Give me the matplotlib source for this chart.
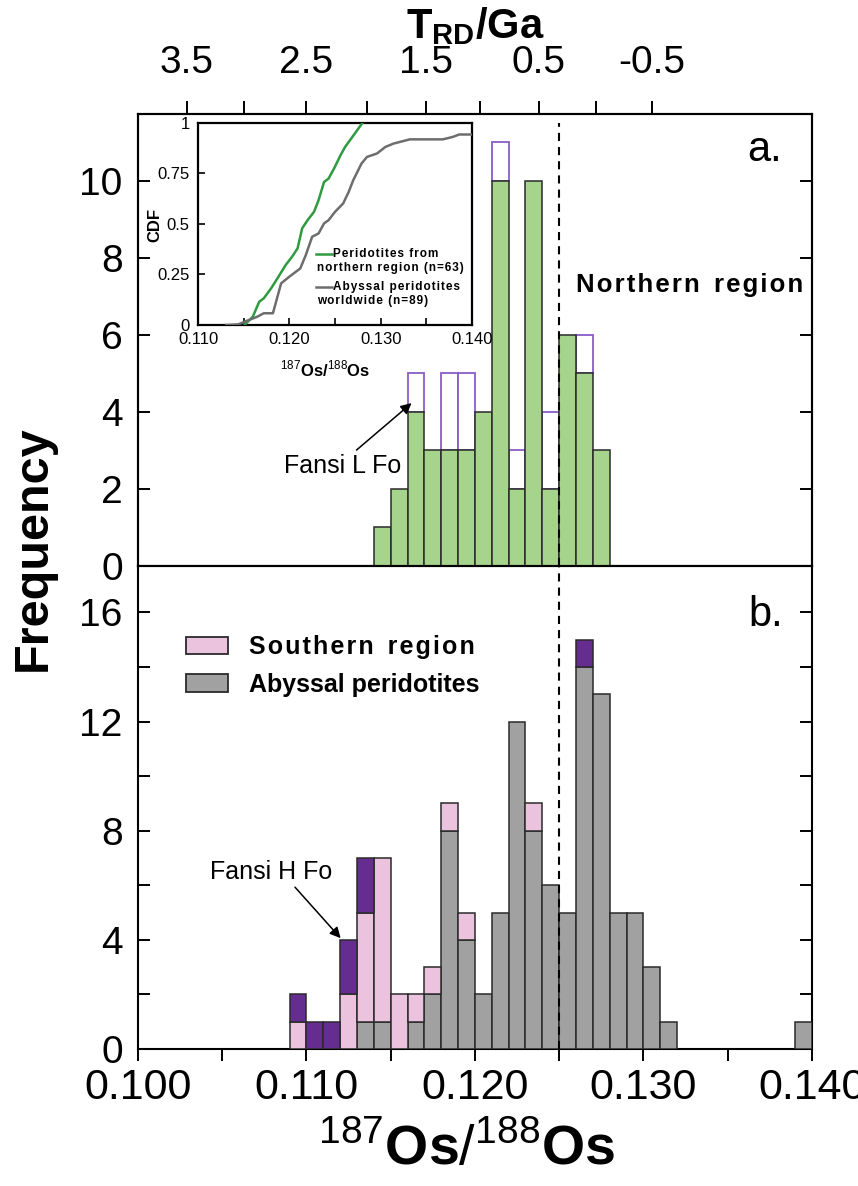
import numpy as np
import matplotlib.pyplot as plt
from matplotlib.patches import Patch
from matplotlib.lines import Line2D

# ---- data ----
BW = 0.001  # bin width of 187Os/188Os

# a. northern region
north_bins = [0.114, 0.115, 0.116, 0.117, 0.118, 0.119, 0.120,
              0.121, 0.122, 0.123, 0.124, 0.125, 0.126, 0.127]
north_counts = [1, 2, 4, 3, 3, 3, 4, 10, 2, 10, 2, 6, 5, 3]
fansi_l_counts = [0, 0, 1, 0, 2, 2, 0, 1, 1, 0, 2, 0, 1, 0]

# b. southern region + abyssal peridotites
south_bins = [0.109, 0.110, 0.111, 0.112, 0.113, 0.114, 0.115, 0.116,
              0.117, 0.118, 0.119, 0.120, 0.121, 0.122, 0.123, 0.124,
              0.125, 0.126, 0.127, 0.128, 0.129, 0.130, 0.131, 0.139]
abyssal_counts = [0, 0, 0, 0, 1, 1, 0, 1, 2, 8, 4, 2, 5, 12, 8, 6,
                  5, 14, 13, 5, 5, 3, 1, 1]
south_counts = [1, 0, 0, 2, 4, 6, 2, 1, 1, 1, 1, 0, 0, 0, 1, 0,
                0, 0, 0, 0, 0, 0, 0, 0]
fansi_h_counts = [1, 1, 1, 2, 2, 0, 0, 0, 0, 0, 0, 0, 0, 0, 0, 0,
                  0, 1, 0, 0, 0, 0, 0, 0]

# inset CDF curves
north_cdf_x = [0.1151, 0.1160, 0.1167, 0.1172, 0.1180, 0.1187, 0.1196, 0.1203,
               0.1209, 0.1214, 0.1220, 0.1227, 0.1232, 0.1238, 0.1243, 0.1249,
               0.1256, 0.1261, 0.1269, 0.1280]
north_cdf_y = [0.0, 0.041, 0.115, 0.132, 0.181, 0.231, 0.297, 0.338,
               0.379, 0.478, 0.519, 0.560, 0.618, 0.708, 0.725, 0.775,
               0.840, 0.881, 0.931, 1.0]
aby_cdf_x = [0.1131, 0.1144, 0.1156, 0.1165, 0.1172, 0.1182, 0.1191, 0.1200,
             0.1212, 0.1218, 0.1225, 0.1232, 0.1238, 0.1243, 0.1250, 0.1259,
             0.1265, 0.1270, 0.1279, 0.1285, 0.1296, 0.1305, 0.1314, 0.1332,
             0.1368, 0.1379, 0.1386, 0.1400]
aby_cdf_y = [0.0, 0.003, 0.025, 0.041, 0.058, 0.058, 0.206, 0.239,
             0.280, 0.346, 0.437, 0.453, 0.503, 0.519, 0.560, 0.602,
             0.659, 0.717, 0.799, 0.832, 0.849, 0.881, 0.898, 0.919,
             0.919, 0.931, 0.943, 0.943]

# top axis: model ages and their 187Os/188Os positions
trd_ages = [3.5, 3.0, 2.5, 2.0, 1.5, 1.0, 0.5, 0.0, -0.5]
trd_pos = [0.1029, 0.1063, 0.1100, 0.1136, 0.1171, 0.1203, 0.1238, 0.1272, 0.1305]

# ---- style ----
GREEN = '#a7d48d'
PINK = '#ecc3df'
GRAY = '#a0a1a0'
PURPLE = '#662d91'
PURPLE_EDGE = '#8a5cc6'
EDGE = '#2a2a2a'
GREEN_LINE = '#2f9b41'
GRAY_LINE = '#6d6d6d'

FONT = ['Liberation Sans', 'DejaVu Sans']
plt.rcParams['font.family'] = FONT
plt.rcParams['mathtext.fontset'] = 'custom'
plt.rcParams['mathtext.rm'] = 'Liberation Sans'
plt.rcParams['mathtext.bf'] = 'Liberation Sans:bold'


def spaced(s):
    return '\u200a'.join(s)


fig = plt.figure(figsize=(8.58, 11.86), dpi=100)
ax_a = fig.add_axes([0.1608, 0.5228, 0.7855, 0.3811])
ax_b = fig.add_axes([0.1608, 0.1155, 0.7855, 0.4073])
ax_in = fig.add_axes([0.2308, 0.7260, 0.3193, 0.1703])

# ---- panel a ----
nb = np.array(north_bins)
nc = np.array(north_counts)
fl = np.array(fansi_l_counts)
m = fl > 0
ax_a.bar(nb[m], fl[m], width=BW, bottom=nc[m], align='edge', facecolor='white',
         edgecolor=PURPLE_EDGE, lw=1.3, zorder=2)
ax_a.bar(nb, nc, width=BW, align='edge', color=GREEN, edgecolor=EDGE, lw=1.1, zorder=3)
ax_a.axvline(0.125, ymin=0, ymax=0.98, color='k', ls=(0, (3.9, 2.9)), lw=1.5, zorder=5)

ax_a.set_xlim(0.100, 0.140)
ax_a.set_ylim(0, 11.74)
ax_a.set_yticks(np.arange(0, 11, 2))
ax_a.set_xticks(np.arange(0.100, 0.1401, 0.005))
ax_a.set_xticklabels([])
ax_a.tick_params(axis='y', direction='in', left=True, right=True, length=8.5, width=1.4,
                 labelsize=28, pad=11)
ax_a.tick_params(axis='x', direction='out', length=8.5, width=1.4)

ax_a.text(0.955, 0.92, 'a.', transform=ax_a.transAxes, ha='right', va='center', fontsize=30)
ax_a.text(0.819, 0.622, spaced('Northern') + '  ' + spaced('region'), transform=ax_a.transAxes,
          ha='center', va='center', fontsize=18.5, weight='bold')
ax_a.annotate('', xy=(0.11624, 4.23), xytext=(0.11297, 3.01),
              arrowprops=dict(arrowstyle='-|>', color='k', lw=1.1, mutation_scale=16,
                              shrinkA=0, shrinkB=0))
ax_a.text(0.11214, 2.6, 'Fansi L Fo', ha='center', va='center', fontsize=18)

# top axis: T_RD
ax_t = ax_a.twiny()
ax_t.set_xlim(ax_a.get_xlim())
ax_t.set_xticks(trd_pos)
ax_t.set_xticklabels([('%g' % a) if i % 2 == 0 else '' for i, a in enumerate(trd_ages)])
ax_t.tick_params(axis='x', direction='out', length=9.5, width=1.4, labelsize=28, pad=14)
ax_t.set_xlabel(r'$\mathbf{T_{RD}/Ga}$', fontsize=30, labelpad=5)

# ---- panel b ----
sb = np.array(south_bins)
ab = np.array(abyssal_counts)
sc = np.array(south_counts)
fh = np.array(fansi_h_counts)
m = ab > 0
ax_b.bar(sb[m], ab[m], width=BW, align='edge', color=GRAY, edgecolor=EDGE, lw=1.1, zorder=3)
m = sc > 0
ax_b.bar(sb[m], sc[m], width=BW, bottom=ab[m], align='edge', color=PINK, edgecolor=EDGE,
         lw=1.1, zorder=3)
m = fh > 0
ax_b.bar(sb[m], fh[m], width=BW, bottom=(ab + sc)[m], align='edge', color=PURPLE,
         edgecolor=EDGE, lw=1.1, zorder=3)
ax_b.axvline(0.125, color='k', ls=(0, (3.9, 2.9)), lw=1.5, zorder=5)

ax_b.set_xlim(0.100, 0.140)
ax_b.set_ylim(0, 17.7)
ax_b.set_yticks(np.arange(0, 17, 2))
ax_b.set_yticklabels([str(v) if v % 4 == 0 else '' for v in range(0, 17, 2)])
ax_b.set_xticks(np.arange(0.100, 0.1401, 0.005))
ax_b.set_xticklabels(['%.3f' % v if i % 2 == 0 else ''
                      for i, v in enumerate(np.arange(0.100, 0.1401, 0.005))])
ax_b.tick_params(axis='y', direction='in', left=True, right=True, length=8.5, width=1.4,
                 labelsize=28, pad=11)
ax_b.tick_params(axis='x', direction='out', length=8.5, width=1.4, labelsize=31, pad=5)

ax_b.text(0.957, 0.899, 'b.', transform=ax_b.transAxes, ha='right', va='center', fontsize=30)
ax_b.annotate('', xy=(0.11203, 4.06), xytext=(0.10932, 5.93),
              arrowprops=dict(arrowstyle='-|>', color='k', lw=1.1, mutation_scale=16,
                              shrinkA=0, shrinkB=0))
ax_b.text(0.1079, 6.5, 'Fansi H Fo', ha='center', va='center', fontsize=18)

handles = [Patch(facecolor=PINK, edgecolor=EDGE, lw=1.3),
           Patch(facecolor=GRAY, edgecolor=EDGE, lw=1.3)]
ax_b.legend(handles, [spaced('Southern') + '  ' + spaced('region'), 'Abyssal peridotites'],
            loc='upper left', bbox_to_anchor=(0.0712, 0.857), frameon=False,
            borderpad=0, borderaxespad=0, handlelength=1.68, handleheight=0.68,
            handletextpad=0.84, labelspacing=0.55,
            prop=dict(size=18, weight='bold', family=FONT))

for ax in (ax_a, ax_b, ax_t):
    for s in ax.spines.values():
        s.set_linewidth(1.5)

# ---- inset CDF ----
ax_in.plot(north_cdf_x, north_cdf_y, color=GREEN_LINE, lw=1.8, zorder=3)
ax_in.plot(aby_cdf_x, aby_cdf_y, color=GRAY_LINE, lw=1.8, zorder=3)
ax_in.set_xlim(0.110, 0.140)
ax_in.set_ylim(0, 1)
ax_in.set_xticks([0.110, 0.120, 0.130, 0.140])
ax_in.set_xticklabels(['0.110', '0.120', '0.130', '0.140'])
ax_in.set_xticks([0.115, 0.125, 0.135], minor=True)
ax_in.set_yticks([0, 0.25, 0.5, 0.75, 1])
ax_in.set_yticklabels(['0', '0.25', '0.5', '0.75', '1'])
ax_in.tick_params(which='both', direction='in', length=5, width=1.2, labelsize=12)
ax_in.tick_params(axis='x', pad=5)
ax_in.tick_params(axis='y', pad=6)
for s in ax_in.spines.values():
    s.set_linewidth(1.6)
ax_in.text(-0.157, 0.495, 'CDF', transform=ax_in.transAxes, rotation=90, ha='center',
           va='center', fontsize=12, weight='bold')
ax_in.text(0.464, -0.22, r'$^{187}\mathbf{Os/}^{188}\mathbf{Os}$', transform=ax_in.transAxes,
           ha='center', va='center', fontsize=12)

ax_in.add_line(Line2D([0.431, 0.489], [0.351, 0.351], transform=ax_in.transAxes,
                      color=GREEN_LINE, lw=1.8))
ax_in.add_line(Line2D([0.431, 0.489], [0.188, 0.188], transform=ax_in.transAxes,
                      color=GRAY_LINE, lw=1.8))
leg_kw = dict(transform=ax_in.transAxes, va='center', ha='left', fontsize=8.5, weight='bold')
ax_in.text(0.493, 0.351, spaced('Peridotites from'), **leg_kw)
ax_in.text(0.433, 0.282, spaced('northern region (n=63)'), **leg_kw)
ax_in.text(0.493, 0.188, spaced('Abyssal peridotites'), **leg_kw)
ax_in.text(0.433, 0.120, spaced('worldwide (n=89)'), **leg_kw)

# ---- shared labels ----
fig.text(33 / 858, 1 - 548 / 1186, 'Frequency', rotation=90, ha='center', va='center',
         fontsize=35, weight='bold')
fig.text(466 / 858, 1 - 1150 / 1186,
         r'$^{\mathrm{187}}\mathbf{Os}\mathrm{/}^{\mathrm{188}}\mathbf{Os}$',
         ha='center', va='center', fontsize=40)

fig.savefig('out.png', dpi=100)
